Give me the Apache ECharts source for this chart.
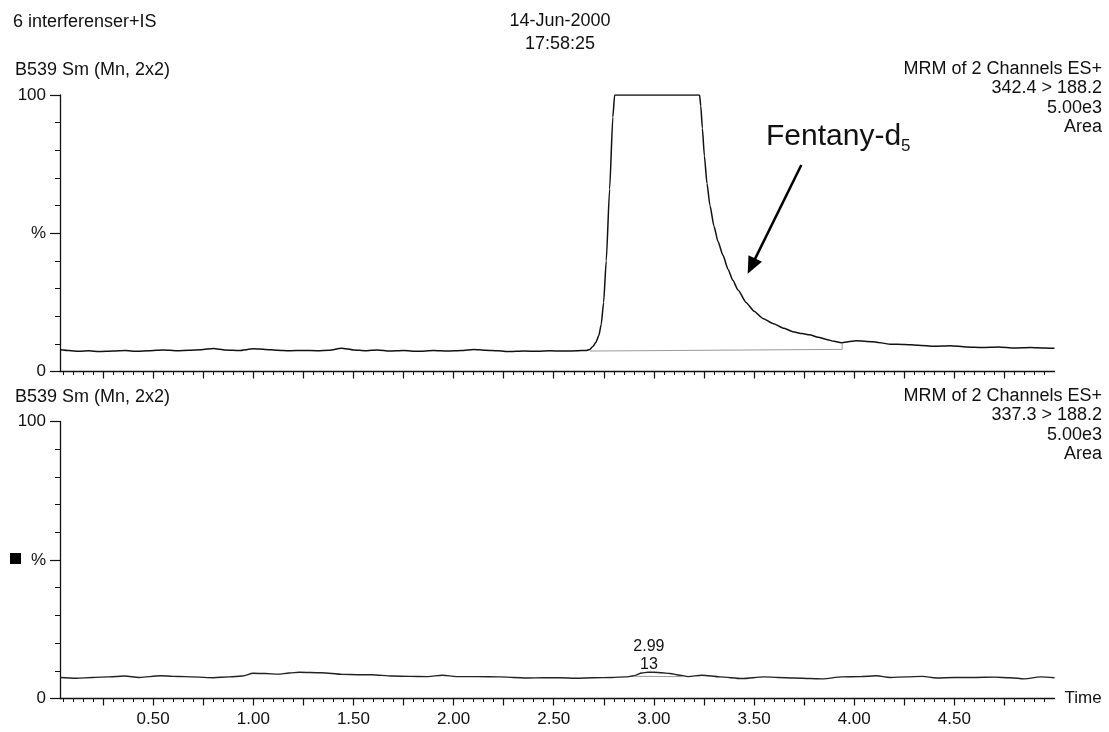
<!DOCTYPE html>
<html>
<head>
<meta charset="utf-8">
<script src="https://cdn.jsdelivr.net/npm/echarts@6/dist/echarts.min.js"></script>
<style>
html, body { margin: 0; padding: 0; background: #fff; }
#chart { width: 1109px; height: 732px; }
</style>
</head>
<body>
<div id="chart"></div>
<script>
// top trace: 342.4 > 188.2 (Fentanyl-d5)
const topTime = [0.035, 0.08, 0.13, 0.18, 0.23, 0.30, 0.36, 0.42, 0.48, 0.55, 0.62, 0.68, 0.74, 0.80, 0.86, 0.93,
    1.00, 1.06, 1.12, 1.18, 1.25, 1.32, 1.38, 1.44, 1.50, 1.56, 1.62, 1.68, 1.75, 1.82, 1.90, 1.97,
    2.04, 2.10, 2.16, 2.22, 2.28, 2.35, 2.42, 2.48, 2.55, 2.62, 2.66, 2.68, 2.695, 2.71, 2.725, 2.737,
    2.749, 2.762, 2.779, 2.795, 2.804, 3.228, 3.234, 3.242, 3.252, 3.265, 3.28, 3.30, 3.32, 3.345,
    3.37, 3.394, 3.42, 3.46, 3.50, 3.544, 3.594, 3.65, 3.694, 3.74, 3.777, 3.82, 3.861, 3.90, 3.935,
    3.97, 4.01, 4.09, 4.18, 4.25, 4.32, 4.40, 4.48, 4.56, 4.64, 4.72, 4.80, 4.88, 4.95, 5.00];
const topSignal = [7.9, 7.6, 7.3, 7.5, 7.2, 7.4, 7.6, 7.3, 7.5, 7.8, 7.5, 7.7, 7.9, 8.3, 7.8, 7.6,
    8.2, 8.0, 7.7, 7.5, 7.6, 7.5, 7.7, 8.4, 7.8, 7.5, 7.8, 7.4, 7.6, 7.3, 7.6, 7.4,
    7.6, 8.0, 7.7, 7.5, 7.2, 7.4, 7.3, 7.5, 7.4, 7.5, 7.6, 8.0, 9.0, 10.5, 13, 17,
    25, 40, 66, 92, 100, 100, 96, 88, 78, 68, 60, 52.5, 47, 42,
    37, 33, 29.5, 25, 21.8, 19.2, 17.4, 15.6, 14.4, 13.7, 13.3, 12.4, 11.6, 10.9, 10.4,
    10.8, 11.1, 10.8, 9.9, 9.8, 9.5, 9.1, 9.3, 8.9, 8.7, 8.9, 8.5, 8.7, 8.5, 8.4];

// bottom trace: 337.3 > 188.2
const bottomTime = [0.035, 0.117, 0.197, 0.28, 0.357, 0.43, 0.536, 0.60, 0.66, 0.80, 0.88, 0.946,
    1.00, 1.06, 1.124, 1.18, 1.23, 1.34, 1.445, 1.52, 1.59, 1.695, 1.78, 1.87, 1.945,
    2.015, 2.12, 2.23, 2.30, 2.37, 2.45, 2.53, 2.61, 2.70, 2.79, 2.86, 2.90, 2.94, 2.97,
    3.00, 3.04, 3.08, 3.13, 3.17, 3.24, 3.33, 3.44, 3.55, 3.62, 3.70, 3.78, 3.84, 3.94,
    4.03, 4.11, 4.18, 4.26, 4.34, 4.41, 4.50, 4.60, 4.70, 4.78, 4.85, 4.93, 5.00];
const bottomSignal = [7.6, 7.3, 7.6, 7.8, 8.1, 7.6, 8.2, 8.0, 7.9, 7.5, 7.8, 8.1,
    9.1, 9.0, 8.8, 9.2, 9.5, 9.3, 8.7, 8.6, 8.6, 8.1, 8.0, 7.9, 8.4,
    7.9, 7.9, 7.8, 7.6, 7.4, 7.5, 7.5, 7.3, 7.5, 7.6, 7.8, 8.2, 9.2, 9.5,
    9.5, 9.3, 9.0, 8.4, 7.9, 8.4, 7.8, 7.2, 7.8, 7.6, 7.4, 7.2, 7.1, 7.8,
    7.9, 8.2, 7.6, 7.8, 8.0, 7.4, 7.6, 7.6, 7.7, 7.5, 7.1, 7.8, 7.5];

// integration baselines (grey)
const topBaseTime = [2.68, 3.94, 3.94];
const topBaseSignal = [7.4, 8.0, 10.3];
const bottomBaseTime = [2.90, 3.15];
const bottomBaseSignal = [8.0, 7.9];

// arrow for the annotation, in data units
const arrowFrom = [3.736, 74.7];
const arrowTo = [3.487, 38.1];

// peak label
const peakTime = 2.99;
const peakHeight = 9.6;
const peakLabel = '2.99\n13';

// axis ticks / labels
const timeMin = 0.035;
const timeMax = 5.0;
const xLabelValues = [0.5, 1.0, 1.5, 2.0, 2.5, 3.0, 3.5, 4.0, 4.5];
const xMajorTicks = [0.25, 0.5, 0.75, 1.0, 1.25, 1.5, 1.75, 2.0, 2.25, 2.5, 2.75, 3.0, 3.25, 3.5, 3.75, 4.0, 4.25, 4.5, 4.75];
const yLabelText = { 0: '0', 50: '%', 100: '100' };

let xMinorTicks = [];
for (let k = 1; k < 100; k++) {
    if (k % 5 !== 0) xMinorTicks.push(+(k * 0.05).toFixed(2));
}

function pairs(xs, ys) {
    return xs.map(function (x, i) { return [x, ys[i]]; });
}

const FONT = "'Liberation Sans', Arial, Helvetica, sans-serif";
const INK = '#111';

let chart = echarts.init(document.getElementById('chart'));

function majorAxis(grid, withLabels) {
    return {
        type: 'value', gridIndex: grid, position: 'bottom',
        min: timeMin, max: timeMax,
        axisLine: { show: true, onZero: false, lineStyle: { color: INK, width: 1.3 } },
        axisTick: { show: true, length: 7, customValues: xMajorTicks, lineStyle: { color: INK, width: 1.2 } },
        axisLabel: withLabels ? {
            show: true, customValues: xLabelValues, margin: 12,
            fontSize: 17, fontFamily: FONT, color: INK,
            formatter: function (v) { return v.toFixed(2); }
        } : { show: false },
        splitLine: { show: false },
        name: withLabels ? 'Time' : '',
        nameLocation: 'end', nameGap: 10,
        nameTextStyle: { fontSize: 17, fontFamily: FONT, color: INK }
    };
}

function minorAxis(grid) {
    return {
        type: 'value', gridIndex: grid, position: 'bottom',
        min: timeMin, max: timeMax,
        axisLine: { show: false },
        axisTick: { show: true, length: 3.5, customValues: xMinorTicks, lineStyle: { color: INK, width: 1 } },
        axisLabel: { show: false },
        splitLine: { show: false }
    };
}

function yAxis(grid) {
    return {
        type: 'value', gridIndex: grid, min: 0, max: 100, interval: 50,
        axisLine: { show: true, lineStyle: { color: INK, width: 1.3 } },
        axisTick: { show: true, length: 10, lineStyle: { color: INK, width: 1.2 } },
        minorTick: { show: true, splitNumber: 5, length: 5, lineStyle: { color: INK, width: 1 } },
        axisLabel: {
            fontSize: 17, fontFamily: FONT, color: INK, margin: 14,
            formatter: function (v) { return yLabelText[v] || ''; }
        },
        splitLine: { show: false }
    };
}

function text(x, y, str, size, align) {
    return {
        type: 'text', x: x, y: y, silent: true,
        style: {
            text: str, fontSize: size, fontFamily: FONT, fill: INK,
            align: align, textAlign: align, verticalAlign: 'middle', textVerticalAlign: 'middle'
        }
    };
}

const option = {
    animation: false,
    backgroundColor: '#fff',
    grid: [
        { left: 60, right: 54.5, top: 95, height: 276.5 },
        { left: 60, right: 54.5, top: 421.5, height: 277 }
    ],
    xAxis: [majorAxis(0, false), minorAxis(0), majorAxis(1, true), minorAxis(1)],
    yAxis: [yAxis(0), yAxis(1)],
    graphic: [
        text(13, 22.5, '6 interferenser+IS', 18, 'left'),
        text(560, 21.5, '14-Jun-2000', 18, 'center'),
        text(560, 44, '17:58:25', 18, 'center'),
        text(15, 70, 'B539 Sm (Mn, 2x2)', 18, 'left'),
        text(1102, 69, 'MRM of 2 Channels ES+', 18, 'right'),
        text(1102, 88.5, '342.4 > 188.2', 18, 'right'),
        text(1102, 108, '5.00e3', 18, 'right'),
        text(1102, 127.5, 'Area', 18, 'right'),
        text(15, 397, 'B539 Sm (Mn, 2x2)', 18, 'left'),
        text(1102, 396, 'MRM of 2 Channels ES+', 18, 'right'),
        text(1102, 415.5, '337.3 > 188.2', 18, 'right'),
        text(1102, 435, '5.00e3', 18, 'right'),
        text(1102, 454.5, 'Area', 18, 'right'),
        text(766, 137, 'Fentany-d', 30, 'left'),
        text(901, 146, '5', 17, 'left'),
        { type: 'rect', shape: { x: 10, y: 553, width: 11, height: 11 }, style: { fill: '#000' }, silent: true }
    ],
    series: [
        {
            name: 'top', type: 'line', xAxisIndex: 0, yAxisIndex: 0,
            data: pairs(topTime, topSignal),
            showSymbol: false, symbol: 'none', smooth: 0.2, smoothMonotone: 'x',
            lineStyle: { color: '#111', width: 1.5 },
            markLine: {
                silent: true, animation: false,
                symbol: ['none', 'triangle'], symbolSize: [15, 17],
                label: { show: false },
                lineStyle: { color: '#000', width: 2.5, type: 'solid' },
                data: [[{ coord: arrowFrom }, { coord: arrowTo }]]
            }
        },
        {
            name: 'topBase', type: 'line', xAxisIndex: 0, yAxisIndex: 0,
            data: pairs(topBaseTime, topBaseSignal),
            showSymbol: false, symbol: 'none',
            lineStyle: { color: '#9a9a9a', width: 1 }
        },
        {
            name: 'bottom', type: 'line', xAxisIndex: 2, yAxisIndex: 1,
            data: pairs(bottomTime, bottomSignal),
            showSymbol: false, symbol: 'none', smooth: 0.3, smoothMonotone: 'x',
            lineStyle: { color: '#222', width: 1.4 },
            markPoint: {
                silent: true, symbol: 'circle', symbolSize: 1,
                itemStyle: { color: 'rgba(0,0,0,0)' },
                label: {
                    show: true, position: 'top', distance: 0, offset: [-3, 2],
                    formatter: peakLabel, fontSize: 16, lineHeight: 18,
                    fontFamily: FONT, color: INK
                },
                data: [{ coord: [peakTime, peakHeight] }]
            }
        },
        {
            name: 'bottomBase', type: 'line', xAxisIndex: 2, yAxisIndex: 1,
            data: pairs(bottomBaseTime, bottomBaseSignal),
            showSymbol: false, symbol: 'none',
            lineStyle: { color: '#9a9a9a', width: 1 }
        }
    ]
};

chart.setOption(option);
</script>
</body>
</html>
